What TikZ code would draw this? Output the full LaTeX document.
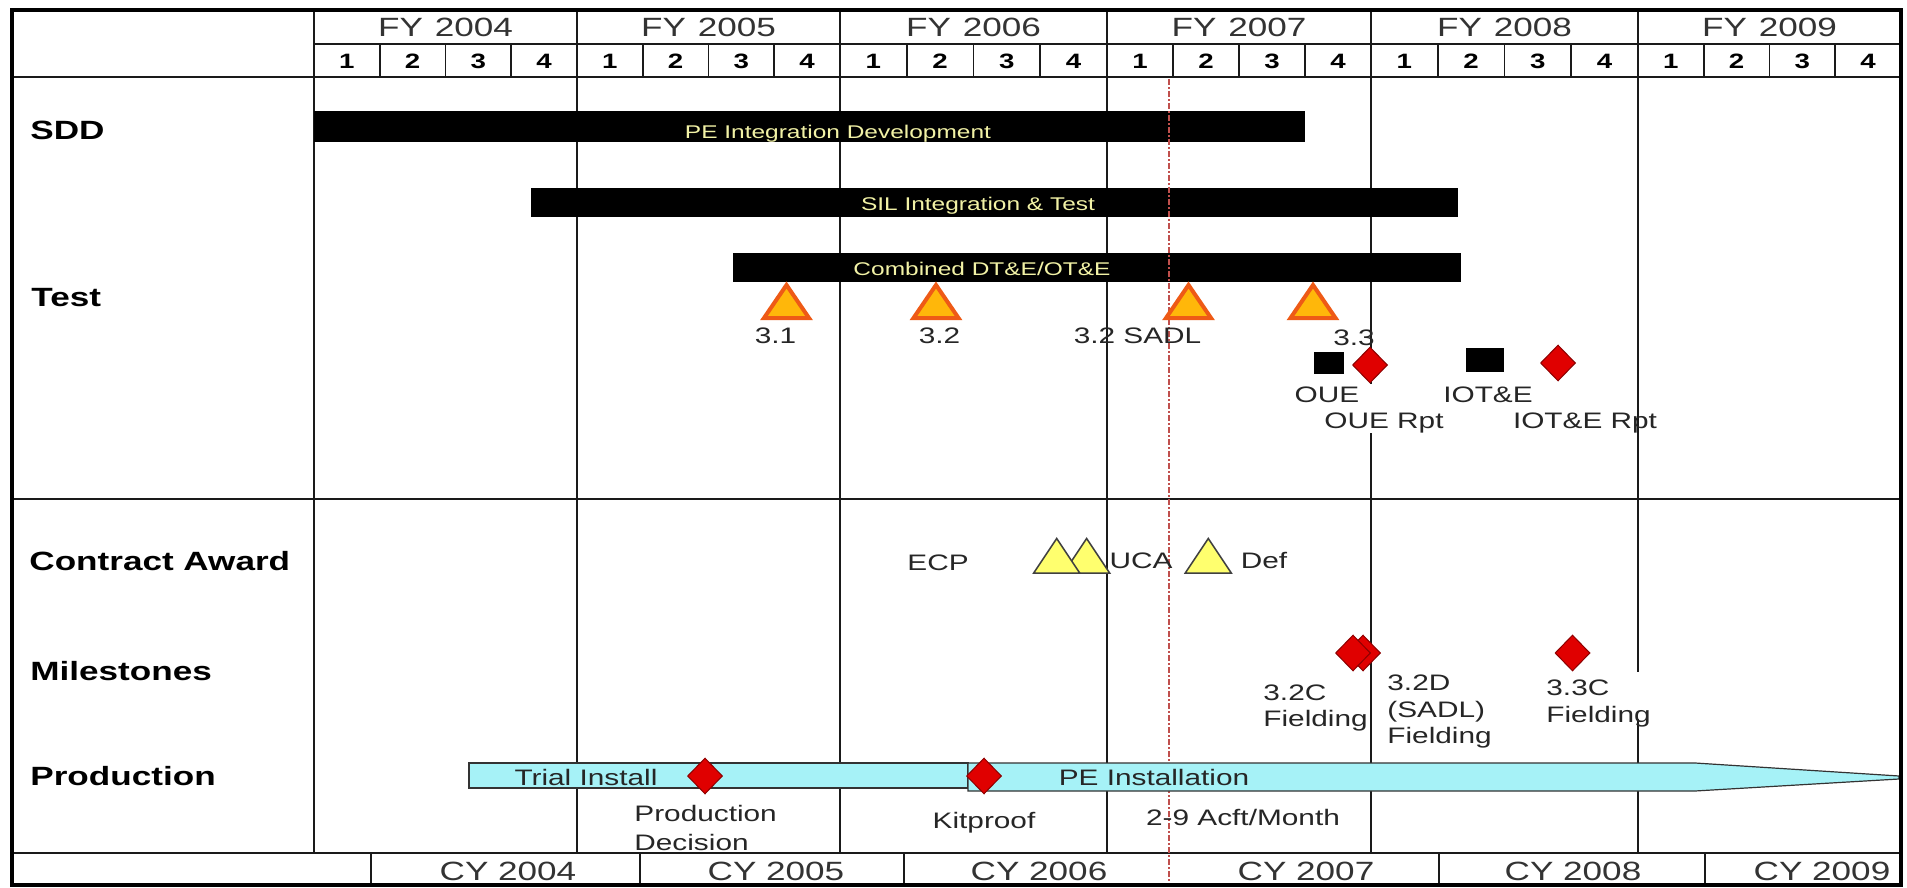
\documentclass[tikz,border=0pt]{standalone}
\usepackage{fontspec}
\setmainfont{Liberation Sans}[FakeStretch=1.33]
\usetikzlibrary{shapes.geometric}

\definecolor{gridc}{HTML}{1A1A1A}
\definecolor{hdrtxt}{HTML}{333333}
\definecolor{txt}{HTML}{262626}
\definecolor{bartxt}{HTML}{F2F2A6}
\definecolor{cyanfill}{HTML}{A6F2F7}
\definecolor{boxline}{HTML}{333333}
\definecolor{msred}{HTML}{E00000}
\definecolor{msredline}{HTML}{8C0000}
\definecolor{tstfill}{HTML}{FFB70A}
\definecolor{tstline}{HTML}{EE5A16}
\definecolor{cayel}{HTML}{FFFF6E}
\definecolor{catline}{HTML}{404040}
\definecolor{nowred}{HTML}{C0504D}

% triangle marker: style, centre x, apex y, half base width, height
\newcommand\marktri[5]{%
  \filldraw[#1] ({#2},{#3}) -- ({#2+#4},{#3+#5}) -- ({#2-#4},{#3+#5}) -- cycle;}

\begin{document}
\begin{tikzpicture}[x=0.5pt,y=-0.5pt,
  gridline/.style={draw=gridc,line width=0.9pt},
  frameline/.style={draw=black,line width=2.4pt},
  nowline/.style={draw=nowred,line width=0.6pt,dash pattern=on 3pt off 1.2pt on 0.6pt off 1.2pt},
  fy/.style={font=\fontsize{13.2pt}{15pt}\selectfont,text=hdrtxt,inner sep=0pt,anchor=base},
  qtr/.style={font=\bfseries\fontsize{10.4pt}{12pt}\selectfont,text=black,inner sep=0pt,anchor=base},
  rowlabel/.style={font=\bfseries\fontsize{13.2pt}{15pt}\selectfont,text=black,inner sep=0pt,anchor=base west},
  bartext/.style={font=\fontsize{9.2pt}{11pt}\selectfont,text=bartxt,inner sep=0pt,anchor=base},
  lbl/.style={font=\fontsize{11.2pt}{13.5pt}\selectfont,text=txt,inner sep=0pt,anchor=base},
  lblw/.style={lbl,anchor=base west},
  bar/.style={fill=black},
  prodbox/.style={fill=cyanfill,draw=boxline,line width=0.6pt},
  msd/.style={shape=diamond,fill=msred,draw=msredline,line width=0.5pt,
              minimum width=17.5pt,minimum height=18pt,inner sep=0pt},
  testtri/.style={fill=tstfill,draw=tstline,line width=2pt},
  catri/.style={fill=cayel,draw=catline,line width=0.75pt}
]
\useasboundingbox (0,0) rectangle (1907,888);
\fill[white] (0,0) rectangle (1907,888);

% ---------- grid ----------
\draw[gridline] (314,10) -- (314,853);
\foreach \x in {577,840,1107,1371,1638}
  \draw[gridline] (\x,10) -- (\x,853);
\draw[gridline] (314,44) -- (1901,44);
\draw[gridline] (12,77) -- (1901,77);
\draw[gridline] (12,499) -- (1901,499);
\draw[gridline] (12,853) -- (1901,853);
\foreach \x in {371,640,904,1439,1705}
  \draw[gridline] (\x,853) -- (\x,885);

% fiscal years and quarters
\foreach \a/\b/\yr in {314/577/2004,577/840/2005,840/1107/2006,
                       1107/1371/2007,1371/1638/2008,1638/1901/2009}{
  \node[fy] (fy\yr) at ({(\a+\b)/2},37) {FY\hspace{0.45em}\yr};
  \foreach \k in {1,2,3}
    \draw[gridline] ({\a+\k*(\b-\a)/4},44) -- ({\a+\k*(\b-\a)/4},77);
  \foreach \k in {1,2,3,4}
    \node[qtr] (q\yr\k) at ({\a+(\k-0.5)*(\b-\a)/4},68.5) {\k};
}

% calendar years
\node[fy] (cy2004) at (508,880) {CY 2004};
\node[fy] (cy2005) at (776,880) {CY 2005};
\node[fy] (cy2006) at (1039,880) {CY 2006};
\node[fy] (cy2007) at (1306,880) {CY 2007};
\node[fy] (cy2008) at (1573,880) {CY 2008};
\node[fy] (cy2009) at (1822,880) {CY 2009};

% ---------- row labels ----------
\node[rowlabel] (rsdd) at (30,140) {SDD};
\node[rowlabel] (rtest) at (31,306) {Test};
\node[rowlabel] (rca) at (29,570) {Contract Award};
\node[rowlabel] (rms) at (30,680) {Milestones};
\node[rowlabel] (rprod) at (30,785) {Production};

% ---------- development and test bars ----------
\fill[bar] (314,111) rectangle (1305,142);
\fill[bar] (531,188) rectangle (1458,217);
\fill[bar] (733,253) rectangle (1461,282);
\node[bartext] (pedev) at (838,139) {PE Integration Development};
\node[bartext] (silit) at (978,210) {SIL Integration \& Test};
\node[bartext] (comb) at (982,275) {Combined DT\&E/OT\&E};

% status line
\draw[nowline] (1169,79) -- (1169,885);

% ---------- production ----------
\filldraw[prodbox] (469,763) rectangle (968,788);
\filldraw[prodbox] (968,763) -- (1695,763) -- (1899,776) -- (1899,779)
  -- (1695,791) -- (968,791) -- cycle;
\node[lbl] (trial) at (586,785) {Trial Install};
\node[lbl] (peinst) at (1154,785) {PE Installation};

% gaps in the grid behind labels
\fill[white] (1362,384) rectangle (1380,433);
\fill[white] (1630,672) rectangle (1646,719);

% ---------- test events ----------
\marktri{testtri}{786.5}{285}{22.5}{33}
\marktri{testtri}{936}{285}{22.5}{33}
\marktri{testtri}{1188.5}{285}{22.5}{33}
\marktri{testtri}{1313}{285}{22.5}{33}
\node[lbl] (t31) at (775.5,343) {3.1};
\node[lbl] (t32) at (939.5,343) {3.2};
\node[lbl] (t32s) at (1137.5,343) {3.2 SADL};
\node[lbl] (t33) at (1354,345) {3.3};

\fill[black] (1314,352) rectangle (1344,374);
\fill[black] (1466,348) rectangle (1504,372);
\node[msd] (ouerpt) at (1370,365) {};
\node[msd] (iotrpt) at (1558,363) {};
\node[lbl] (oue) at (1327,402) {OUE};
\node[lbl] (ouer) at (1384,428) {OUE Rpt};
\node[lbl] (iot) at (1488,402) {IOT\&E};
\node[lbl] (iotr) at (1585,428) {IOT\&E Rpt};

% ---------- contract award ----------
\marktri{catri}{1086.6}{538.5}{23}{34.5}
\marktri{catri}{1056.7}{538.5}{23}{34.5}
\marktri{catri}{1208.3}{538.5}{23}{34.5}
\node[lbl] (ecp) at (938,570) {ECP};
\node[lbl] (uca) at (1141,568) {UCA};
\node[lbl] (def) at (1264,568) {Def};

% ---------- milestones ----------
\node[msd] (m32d) at (1363,653) {};
\node[msd] (m32c) at (1353,653) {};
\node[msd] (m33c) at (1572.5,653) {};
\node[lblw] (m32ca) at (1263,700) {3.2C};
\node[lblw] (m32cb) at (1263,726) {Fielding};
\node[lblw] (m32da) at (1387,690) {3.2D};
\node[lblw] (m32db) at (1387,717) {(SADL)};
\node[lblw] (m32dc) at (1387,743) {Fielding};
\node[lblw] (m33ca) at (1546,695) {3.3C};
\node[lblw] (m33cb) at (1546,722) {Fielding};

% ---------- production milestones ----------
\node[msd] (pdec) at (705,776) {};
\node[msd] (kitp) at (984,776) {};
\node[lblw] (proda) at (634,821) {Production};
\node[lblw] (prodb) at (634,850) {Decision};
\node[lbl] (kit) at (984,828) {Kitproof};
\node[lbl] (rate) at (1243,825) {2-9 Acft/Month};

% ---------- frame ----------
\draw[frameline] (12,10) rectangle (1901,885);
\end{tikzpicture}
\end{document}
